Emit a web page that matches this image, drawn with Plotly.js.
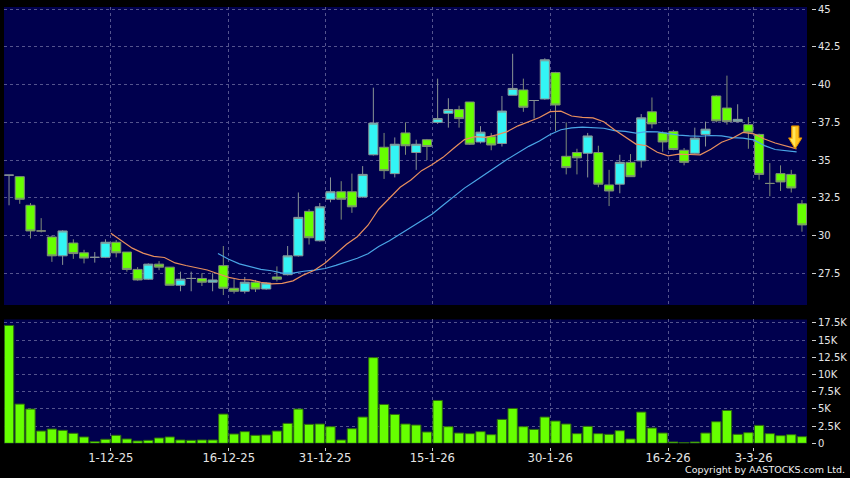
<!DOCTYPE html>
<html>
<head>
<meta charset="utf-8">
<script src="https://cdn.plot.ly/plotly-3.0.1.min.js"></script>
<style>
html,body{margin:0;padding:0;background:#000;}
#chart{width:850px;height:478px;}
</style>
</head>
<body>
<div id="chart"></div>
<script>
// ---- data (index = trading day, 0..74) ----
const opens  = [34.0,33.9,32.0,30.3,29.9,28.65,29.5,28.85,28.55,28.55,29.55,28.9,27.75,27.1,28.1,27.9,26.7,27.15,27.15,26.9,
                28.0,26.5,26.3,26.9,26.45,27.25,27.4,28.65,31.6,29.65,32.4,32.9,32.9,32.55,35.35,35.85,34.1,36.8,35.5,36.35,
                37.5,38.1,38.35,38.85,36.2,36.55,36.1,39.3,39.65,38.95,39.05,40.8,35.25,35.5,35.45,35.5,33.35,33.4,34.85,34.95,
                38.2,36.8,36.9,35.65,35.45,36.7,39.25,38.45,37.55,37.35,36.7,33.45,34.1,34.05,32.1];
const highs  = [34.0,33.9,32.15,31.15,30.0,30.35,29.75,29.05,28.9,29.75,29.7,28.9,27.9,28.15,28.3,27.9,27.6,27.6,27.5,27.5,
                29.3,27.1,27.25,27.05,26.9,27.95,29.3,32.85,31.75,32.15,33.85,33.6,34.1,34.6,39.8,36.8,36.5,37.5,36.35,36.4,
                40.4,39.1,38.6,38.85,37.25,36.8,39.25,42.05,40.4,38.95,41.75,40.85,37.5,35.75,36.8,35.95,34.35,35.35,35.4,38.05,
                39.15,36.9,37.0,35.8,37.15,37.55,39.3,40.6,38.7,37.85,36.75,34.8,34.65,34.35,32.35];
const lows   = [32.0,32.1,29.8,30.2,28.25,28.05,28.45,28.15,28.2,28.5,28.55,27.6,27.0,27.05,27.7,26.7,26.3,26.3,26.65,26.3,
                26.05,26.15,26.15,26.25,26.4,26.95,27.35,28.6,29.4,29.6,32.2,31.05,31.5,32.5,35.3,33.75,33.85,35.35,34.35,35.0,
                37.4,37.15,37.15,36.0,36.1,35.65,35.9,39.3,38.2,37.75,39.0,36.9,34.05,34.05,33.85,33.2,31.95,32.8,33.9,34.5,
                37.1,35.55,35.65,34.65,35.4,35.9,37.5,37.35,37.5,35.75,33.7,32.6,32.95,32.85,30.25];
const closes = [34.0,32.4,30.3,30.3,28.65,30.3,28.8,28.5,28.55,29.55,28.85,27.75,27.05,28.1,27.9,26.7,27.1,27.15,26.9,27.05,
                26.5,26.3,26.9,26.45,26.85,27.1,28.65,31.2,29.85,31.9,32.9,32.4,31.9,34.05,37.45,34.3,36.05,35.95,36.05,35.9,
                37.75,38.35,37.75,36.05,36.85,36.0,38.25,39.75,38.5,38.95,41.65,38.65,34.5,35.15,36.6,33.4,32.95,34.85,33.9,37.8,
                37.4,36.2,35.7,34.85,36.45,37.05,37.6,37.55,37.7,36.85,34.05,33.45,33.55,33.15,30.7];
const volumes = [17110,5690,4970,1780,2070,1880,1450,920,240,580,1160,630,340,430,770,920,480,430,480,480,
                 4240,1350,1690,1160,1210,1780,2890,4970,2750,2800,2410,480,2120,3810,12440,5640,4190,2800,2650,1640,
                 6220,2410,1490,1400,1690,1250,3470,5060,2410,2020,3810,3230,2800,1400,2460,1400,1300,1830,630,4530,
                 2220,1490,190,100,190,1490,3130,4770,1300,1540,2600,1400,1110,1250,960];
// 10-day average line (orange), first value at day 9
const ma10Start = 9;
const ma10 = [30.14,29.62,29.16,28.83,28.61,28.54,28.18,28.01,27.87,27.71,27.46,27.22,27.08,27.06,26.90,26.79,26.83,26.99,27.39,27.69,
              28.17,28.81,29.42,29.92,30.68,31.74,32.46,33.20,33.68,34.30,34.70,35.18,35.78,36.36,36.56,36.50,36.67,36.89,37.27,37.52,
              37.82,38.21,38.24,37.92,37.83,37.80,37.54,37.01,36.52,36.06,35.95,35.52,35.28,35.40,35.37,35.35,35.72,36.18,36.45,36.83,
              36.74,36.40,36.13,35.91,35.74];
// 20-day average line (blue), first value at day 19
const ma20Start = 19;
const ma20 = [28.80,28.42,28.12,27.95,27.75,27.66,27.50,27.50,27.63,27.70,27.81,28.02,28.25,28.49,28.79,29.27,29.65,30.09,30.53,30.99,
              31.43,32.00,32.60,33.14,33.62,34.12,34.57,35.05,35.47,35.91,36.26,36.70,37.01,37.14,37.19,37.15,37.11,36.95,36.90,36.79,
              36.88,36.87,36.76,36.66,36.60,36.58,36.63,36.60,36.49,36.45,36.34,35.96,35.70,35.65,35.55];
const tickIdx = [10,21,30,40,51,62,70];
const tickLabels = ['1-12-25','16-12-25','31-12-25','15-1-26','30-1-26','16-2-26','3-3-26'];
const priceTicks = [27.5,30,32.5,35,37.5,40,42.5,45];
const volTicks = [0,2500,5000,7500,10000,12500,15000,17500];
const volTickText = ['0','2.5K','5K','7.5K','10K','12.5K','15K','17.5K'];

// ---- build ----
const idx = closes.map((_, i) => i);
const tickPos = tickIdx.map(i => i - 0.5);
const ma10X = ma10.map((_, k) => ma10Start + k + 0.5);
const ma20X = ma20.map((_, k) => ma20Start + k + 0.5);

const gridColor = '#54548e';
const labelFont = {family: 'DejaVu Sans', size: 10, color: '#e6e6e6'};
const xRange = [-0.47, 74.47];

const traces = [
  {type: 'scatter', mode: 'lines', x: ma20X, y: ma20, xaxis: 'x', yaxis: 'y',
   line: {color: '#4aa6e6', width: 1.2}, hoverinfo: 'skip'},
  {type: 'scatter', mode: 'lines', x: ma10X, y: ma10, xaxis: 'x', yaxis: 'y',
   line: {color: '#e88f5e', width: 1.2}, hoverinfo: 'skip'},
  {type: 'candlestick', x: idx, open: opens, high: highs, low: lows, close: closes,
   xaxis: 'x', yaxis: 'y', whiskerwidth: 0,
   increasing: {fillcolor: '#33f5f5', line: {color: '#8a9494', width: 1}},
   decreasing: {fillcolor: '#66ff00', line: {color: '#7f8c78', width: 1}},
   hoverinfo: 'skip'},
  {type: 'bar', x: idx, y: volumes, xaxis: 'x2', yaxis: 'y2',
   marker: {color: '#66ff00', line: {color: '#2f6a10', width: 1}}, hoverinfo: 'skip'}
];

const lastX = ma10X[ma10X.length - 1];
const lastY = ma10[ma10.length - 1];

const layout = {
  width: 850, height: 478,
  margin: {l: 4, r: 39, t: 7, b: 31, pad: 0},
  paper_bgcolor: '#000000', plot_bgcolor: '#00004e',
  showlegend: false,
  bargap: 0.13,
  boxgap: 0.15, boxgroupgap: 0,
  xaxis: {domain: [0, 0.99504], anchor: 'y', range: xRange, type: 'linear',
          tickvals: tickPos, showticklabels: false, ticks: '',
          showgrid: true, gridcolor: gridColor, griddash: '3px,3px', gridwidth: 1,
          zeroline: false, showline: false, rangeslider: {visible: false}, fixedrange: true},
  xaxis2: {domain: [0, 0.99504], anchor: 'free', position: 0, range: xRange, type: 'linear',
           tickvals: tickPos, ticktext: tickLabels, ticks: 'outside', ticklen: 3, tickcolor: '#cfcfcf',
           ticklabelstandoff: -3,
           tickfont: {family: 'DejaVu Sans', size: 11.6, color: '#e6e6e6'},
           showgrid: true, gridcolor: gridColor, griddash: '3px,3px', gridwidth: 1,
           zeroline: false, showline: false, fixedrange: true},
  yaxis: {domain: [0.32273, 1], anchor: 'free', position: 1, side: 'right', range: [25.39, 45.15],
          tickvals: priceTicks, ticktext: priceTicks.map(String), ticks: 'outside', ticklen: 4, tickcolor: '#cfcfcf',
          tickfont: labelFont, showgrid: true, gridcolor: gridColor, griddash: '3px,3px', gridwidth: 1,
          zeroline: false, showline: false, fixedrange: true},
  yaxis2: {domain: [0.0084, 0.2898], anchor: 'free', position: 1, side: 'right', range: [0, 17980],
           tickvals: volTicks, ticktext: volTickText, ticks: 'outside', ticklen: 4, tickcolor: '#cfcfcf',
           tickfont: labelFont, showgrid: true, gridcolor: gridColor, griddash: '3px,3px', gridwidth: 1,
           zeroline: false, showline: false, fixedrange: true},
  shapes: [
    {type: 'path', xref: 'x', yref: 'y', xsizemode: 'pixel', ysizemode: 'pixel',
     xanchor: lastX, yanchor: lastY,
     path: 'M -1.5 0 L -8 11 L -5 11 L -5 23 L 2.3 23 L 2.3 11 L 5.3 11 Z',
     fillcolor: '#ffc21a', line: {color: '#d98a00', width: 1}, layer: 'above'},
    {type: 'path', xref: 'x', yref: 'y', xsizemode: 'pixel', ysizemode: 'pixel',
     xanchor: lastX, yanchor: lastY,
     path: 'M -1.5 1.5 L -6.5 10 L -3.8 10 L -3.8 22 L -1.2 22 L -1.2 10 Z',
     fillcolor: '#ffe55a', line: {width: 0}, layer: 'above'}
  ],
  annotations: [
    {xref: 'paper', yref: 'paper', x: 1.0446, y: -0.052, xanchor: 'right', yanchor: 'middle',
     text: 'Copyright by AASTOCKS.com Ltd.', showarrow: false,
     font: {family: 'DejaVu Sans', size: 9.5, color: '#f0f0f0'}}
  ]
};

Plotly.newPlot('chart', traces, layout, {staticPlot: true, displayModeBar: false});
</script>
</body>
</html>
